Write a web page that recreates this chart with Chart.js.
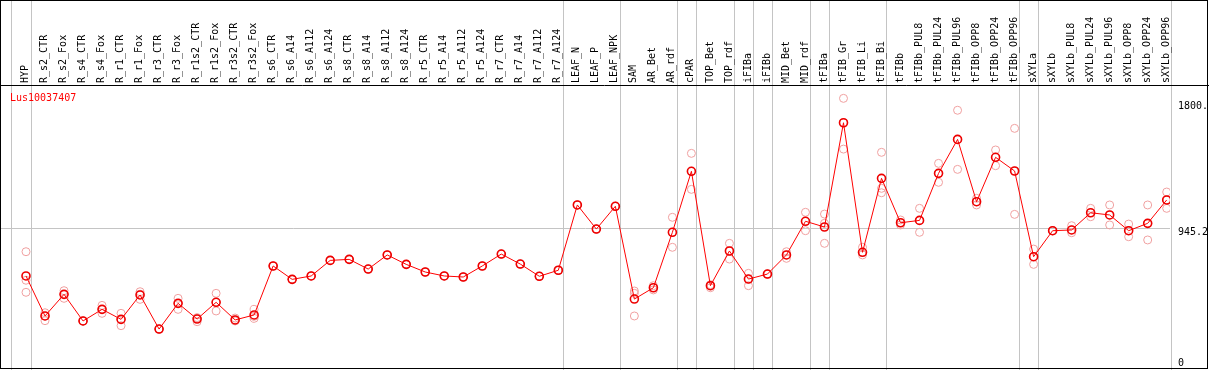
<!DOCTYPE html>
<html lang="en">
<head>
  <meta charset="UTF-8" />
  <title>Lus10037407</title>
  <style>
    html, body {
      margin: 0;
      padding: 0;
      background: #fff;
      overflow: hidden;
    }
    canvas {
      display: block;
    }
  </style>
</head>
<body>
  <canvas id="exprChart" width="1209" height="370"></canvas>

  <script src="https://cdn.jsdelivr.net/npm/chart.js"></script>
  <script>
    // Sample names (one per column)
    const samples = [
      'HYP',
      'R_s2_CTR', 'R_s2_Fox', 'R_s4_CTR', 'R_s4_Fox', 'R_r1_CTR', 'R_r1_Fox', 'R_r3_CTR', 'R_r3_Fox',
      'R_r1s2_CTR', 'R_r1s2_Fox', 'R_r3s2_CTR', 'R_r3s2_Fox',
      'R_s6_CTR', 'R_s6_A14', 'R_s6_A112', 'R_s6_A124', 'R_s8_CTR', 'R_s8_A14', 'R_s8_A112', 'R_s8_A124',
      'R_r5_CTR', 'R_r5_A14', 'R_r5_A112', 'R_r5_A124', 'R_r7_CTR', 'R_r7_A14', 'R_r7_A112', 'R_r7_A124',
      'LEAF_N', 'LEAF_P', 'LEAF_NPK',
      'SAM', 'AR_Bet', 'AR_rdf',
      'cPAR',
      'TOP_Bet', 'TOP_rdf',
      'iFIBa',
      'iFIBb',
      'MID_Bet', 'MID_rdf',
      'tFIBa',
      'tFIB_Gr', 'tFIB_Li', 'tFIB_Bi',
      'tFIBb', 'tFIBb_PUL8', 'tFIBb_PUL24', 'tFIBb_PUL96', 'tFIBb_OPP8', 'tFIBb_OPP24', 'tFIBb_OPP96',
      'sXYLa',
      'sXYLb', 'sXYLb_PUL8', 'sXYLb_PUL24', 'sXYLb_PUL96', 'sXYLb_OPP8', 'sXYLb_OPP24', 'sXYLb_OPP96'
    ];

    // how many samples in each tissue group (separated by grey lines)
    const groupSizes = [1, 28, 3, 3, 1, 2, 1, 1, 2, 1, 3, 7, 1, 7];

    // mean expression per sample
    const means = [
      619,
      347, 494, 313, 392, 324, 490, 258, 433,
      326, 440, 320, 354,
      687, 596, 619, 725, 732, 666, 762, 698,
      646, 619, 612, 687, 768, 700, 617, 658,
      1102, 938, 1093,
      462, 539, 916,
      1331,
      553, 789,
      598,
      632,
      762, 991,
      952,
      1661, 780, 1283,
      981, 997, 1317, 1548, 1124, 1426, 1333,
      750,
      927, 932, 1049, 1034, 927, 977, 1136
    ];

    // replicate values
    const rep1 = [
      784,
      369, 519, 313, 419, 365, 512, 258, 467,
      336, 501, 333, 392,
      687, 596, 619, 725, 732, 666, 762, 698,
      646, 619, 612, 687, 768, 700, 617, 658,
      1102, 938, 1093,
      517, 553, 1018,
      1453,
      560, 841,
      637,
      632,
      784, 1052,
      1040,
      1827, 814, 1460,
      1000, 1079, 1385, 1746, 1147, 1476, 1623,
      802,
      927, 961, 1079, 1102, 972, 1102, 1190
    ];
    const rep2 = [
      508,
      315, 467, 313, 365, 281, 460, 258, 392,
      308, 381, 313, 331,
      687, 596, 619, 725, 732, 666, 762, 698,
      646, 619, 612, 687, 768, 700, 617, 658,
      1102, 938, 1093,
      347, 524, 814,
      1208,
      539, 734,
      553,
      632,
      739, 927,
      841,
      1482, 762, 1185,
      966, 916, 1256, 1344, 1102, 1369, 1038,
      698,
      927, 913, 1022, 966, 886, 864, 1079
    ];
    const rep3 = [
      590,
      347, 494, 313, 392, 324, 495, 258, 433,
      330, 440, 320, 345,
      687, 596, 619, 725, 732, 666, 762, 698,
      646, 619, 612, 687, 768, 700, 617, 658,
      1102, 938, 1093,
      501, 539, 916,
      1331,
      553, 789,
      598,
      632,
      762, 991,
      977,
      1661, 780, 1215,
      981, 997, 1317, 1548, 1124, 1426, 1333,
      750,
      927, 932, 1049, 1034, 927, 977, 1136
    ];

    // right axis ticks
    const tickValues = [0, 945.2, 1800];
    const tickLabels = ['0', '945.2', '1800.'];
    const geneName = 'Lus10037407';

    const meanPoints = means.map((v, i) => ({ x: i, y: v }));
    const repPoints = [];
    [rep1, rep2, rep3].forEach(rep => {
      rep.forEach((v, i) => repPoints.push({ x: i, y: v }));
    });

    const FONT = '10px "DejaVu Sans Mono", "Liberation Mono", monospace';

    // frame, group separators, header labels and right axis labels
    const framePlugin = {
      id: 'frame',
      beforeDatasetsDraw(chart) {
        const ctx = chart.ctx;
        const xs = chart.scales.x;
        const ys = chart.scales.y;
        const area = chart.chartArea;
        ctx.save();
        ctx.lineWidth = 1;
        ctx.strokeStyle = '#c4c4c4';

        // separators between tissue groups
        const edges = [-0.8];
        let n = 0;
        groupSizes.forEach(s => {
          n += s;
          edges.push(n - 1 + 0.24);
        });
        edges.forEach(e => {
          const px = Math.round(xs.getPixelForValue(e)) + 0.5;
          ctx.beginPath();
          ctx.moveTo(px, 0);
          ctx.lineTo(px, chart.height);
          ctx.stroke();
        });

        // middle grid line
        const gy = Math.round(ys.getPixelForValue(tickValues[1])) + 0.5;
        ctx.beginPath();
        ctx.moveTo(area.left, gy);
        ctx.lineTo(area.right, gy);
        ctx.stroke();

        // black outline and header separator
        ctx.strokeStyle = '#000';
        ctx.strokeRect(0.5, 0.5, chart.width - 2, chart.height - 2);
        ctx.beginPath();
        ctx.moveTo(0, area.top - 0.5);
        ctx.lineTo(chart.width, area.top - 0.5);
        ctx.stroke();
        ctx.restore();
      },
      afterDraw(chart) {
        const ctx = chart.ctx;
        const xs = chart.scales.x;
        const ys = chart.scales.y;
        const area = chart.chartArea;
        ctx.save();
        ctx.font = FONT;
        ctx.fillStyle = '#000';

        // rotated sample names
        samples.forEach((name, i) => {
          const px = xs.getPixelForValue(i);
          ctx.save();
          ctx.translate(px - 0.5, area.top - 3);
          ctx.rotate(-Math.PI / 2);
          ctx.textAlign = 'left';
          ctx.textBaseline = 'middle';
          ctx.fillText(name, 0, 0);
          ctx.restore();
        });

        // right axis labels
        ctx.textAlign = 'left';
        tickValues.forEach((v, i) => {
          const py = ys.getPixelForValue(v);
          if (py + 10 > area.bottom) {
            ctx.textBaseline = 'alphabetic';
            ctx.fillText(tickLabels[i], area.right + 8, area.bottom - 1);
          } else {
            ctx.textBaseline = 'top';
            ctx.fillText(tickLabels[i], area.right + 8, py - 0.5);
          }
        });

        // gene name
        ctx.fillStyle = '#ff0000';
        ctx.textBaseline = 'alphabetic';
        ctx.fillText(geneName, 10, 101);
        ctx.restore();
      }
    };

    const config = {
      type: 'line',
      data: {
        datasets: [
          {
            label: 'mean',
            data: meanPoints,
            borderColor: '#ff0000',
            borderWidth: 1,
            pointRadius: 4,
            pointBorderWidth: 1.6,
            pointBorderColor: '#ee0000',
            pointBackgroundColor: 'rgba(0,0,0,0)',
            tension: 0,
            fill: false
          },
          {
            label: 'replicates',
            data: repPoints,
            showLine: false,
            pointRadius: 4,
            pointBorderWidth: 1,
            pointBorderColor: '#f0a0a0',
            pointBackgroundColor: 'rgba(0,0,0,0)'
          }
        ]
      },
      options: {
        responsive: false,
        animation: false,
        events: [],
        layout: {
          autoPadding: false,
          padding: { left: 1, top: 86, right: 39, bottom: 3 }
        },
        scales: {
          x: {
            type: 'linear',
            display: false,
            min: -1.315,
            max: 60.174
          },
          y: {
            display: false,
            min: 0,
            max: 1911
          }
        },
        plugins: {
          legend: { display: false },
          tooltip: { enabled: false }
        }
      },
      plugins: [framePlugin]
    };

    const exprChart = new Chart(document.getElementById('exprChart'), config);
  </script>
</body>
</html>
